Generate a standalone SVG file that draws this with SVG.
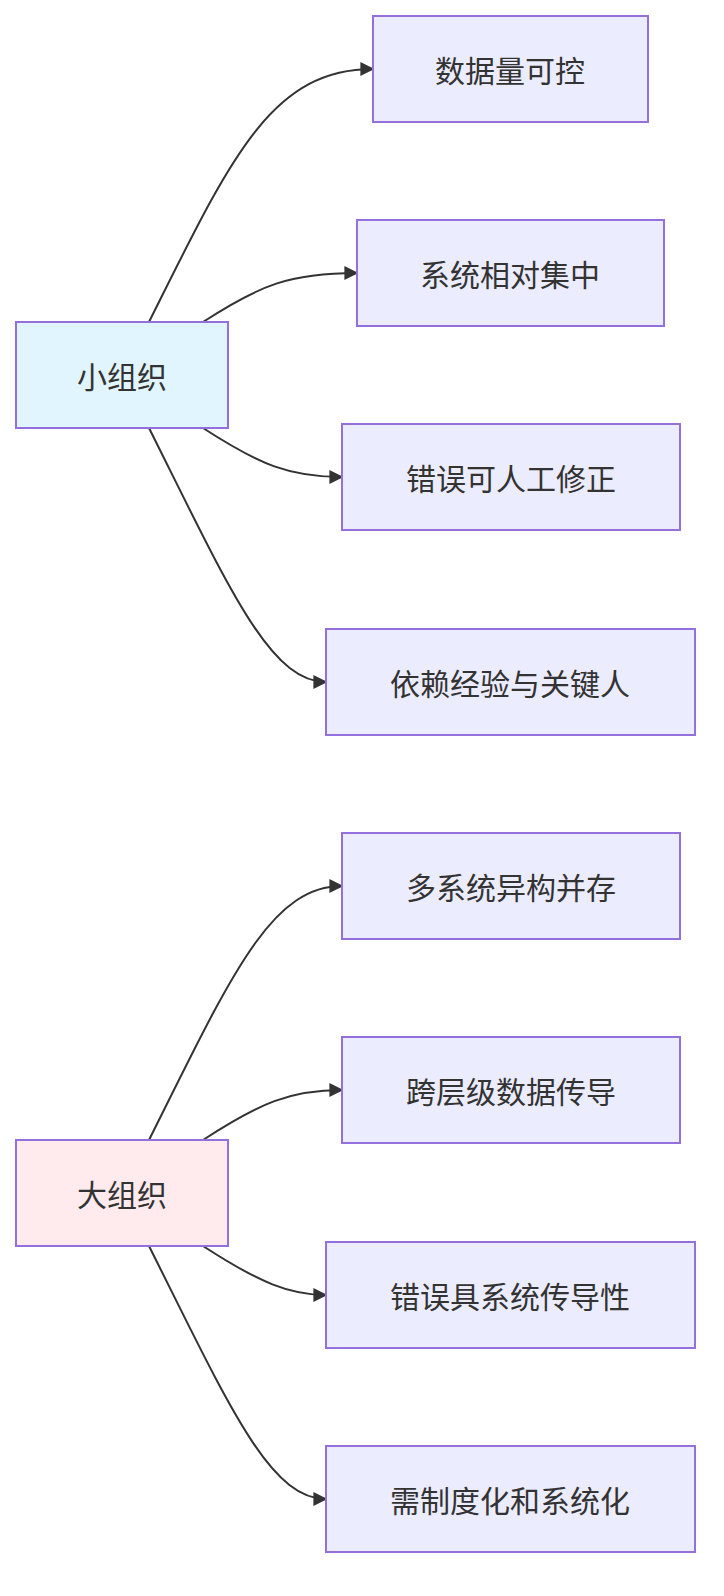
<svg xmlns="http://www.w3.org/2000/svg" width="724" height="1596" viewBox="0 0 724 1596">
<style>
.n rect{fill:#ECECFF;stroke:#9370DB;stroke-width:2}
.n text{font-family:"Noto Sans CJK SC","Liberation Sans",sans-serif;font-size:30px;fill:#333;text-anchor:middle;dominant-baseline:central}
.e path{fill:none;stroke:#333;stroke-width:2;marker-end:url(#a)}
</style>
<defs><marker id="a" viewBox="0 0 10 10" refX="9" refY="5" markerWidth="14" markerHeight="14" markerUnits="userSpaceOnUse" orient="auto"><path d="M0,0L10,5L0,10z" fill="#333"/></marker></defs>
<rect width="724" height="1596" fill="#fff"/>
<g class="e">
<path d="M149,322 C230,160 270,69 373,69"/>
<path d="M203,322 C260,285 290,273 357,273"/>
<path d="M203,428 C260,465 290,477 342,477"/>
<path d="M149,428 C230,590 270,682 326,682"/>
<path d="M149,1140 C230,978 270,886 342,886"/>
<path d="M203,1140 C260,1103 290,1090 342,1090"/>
<path d="M203,1246 C260,1283 290,1295 326,1295"/>
<path d="M149,1246 C230,1408 270,1499 326,1499"/>
</g>
<g class="n" id="small"><rect x="16" y="322" width="212" height="106" style="fill:#E1F5FE"/><text x="122" y="375">小组织</text></g>
<g class="n" id="big"><rect x="16" y="1140" width="212" height="106" style="fill:#FFEBEE"/><text x="122" y="1193">大组织</text></g>
<g class="n" id="n1"><rect x="373" y="16" width="275" height="106"/><text x="510" y="69">数据量可控</text></g>
<g class="n" id="n2"><rect x="357" y="220" width="307" height="106"/><text x="510" y="273">系统相对集中</text></g>
<g class="n" id="n3"><rect x="342" y="424" width="338" height="106"/><text x="511" y="477">错误可人工修正</text></g>
<g class="n" id="n4"><rect x="326" y="629" width="369" height="106"/><text x="510" y="682">依赖经验与关键人</text></g>
<g class="n" id="n5"><rect x="342" y="833" width="338" height="106"/><text x="511" y="886">多系统异构并存</text></g>
<g class="n" id="n6"><rect x="342" y="1037" width="338" height="106"/><text x="511" y="1090">跨层级数据传导</text></g>
<g class="n" id="n7"><rect x="326" y="1242" width="369" height="106"/><text x="510" y="1295">错误具系统传导性</text></g>
<g class="n" id="n8"><rect x="326" y="1446" width="369" height="106"/><text x="510" y="1499">需制度化和系统化</text></g>
</svg>
